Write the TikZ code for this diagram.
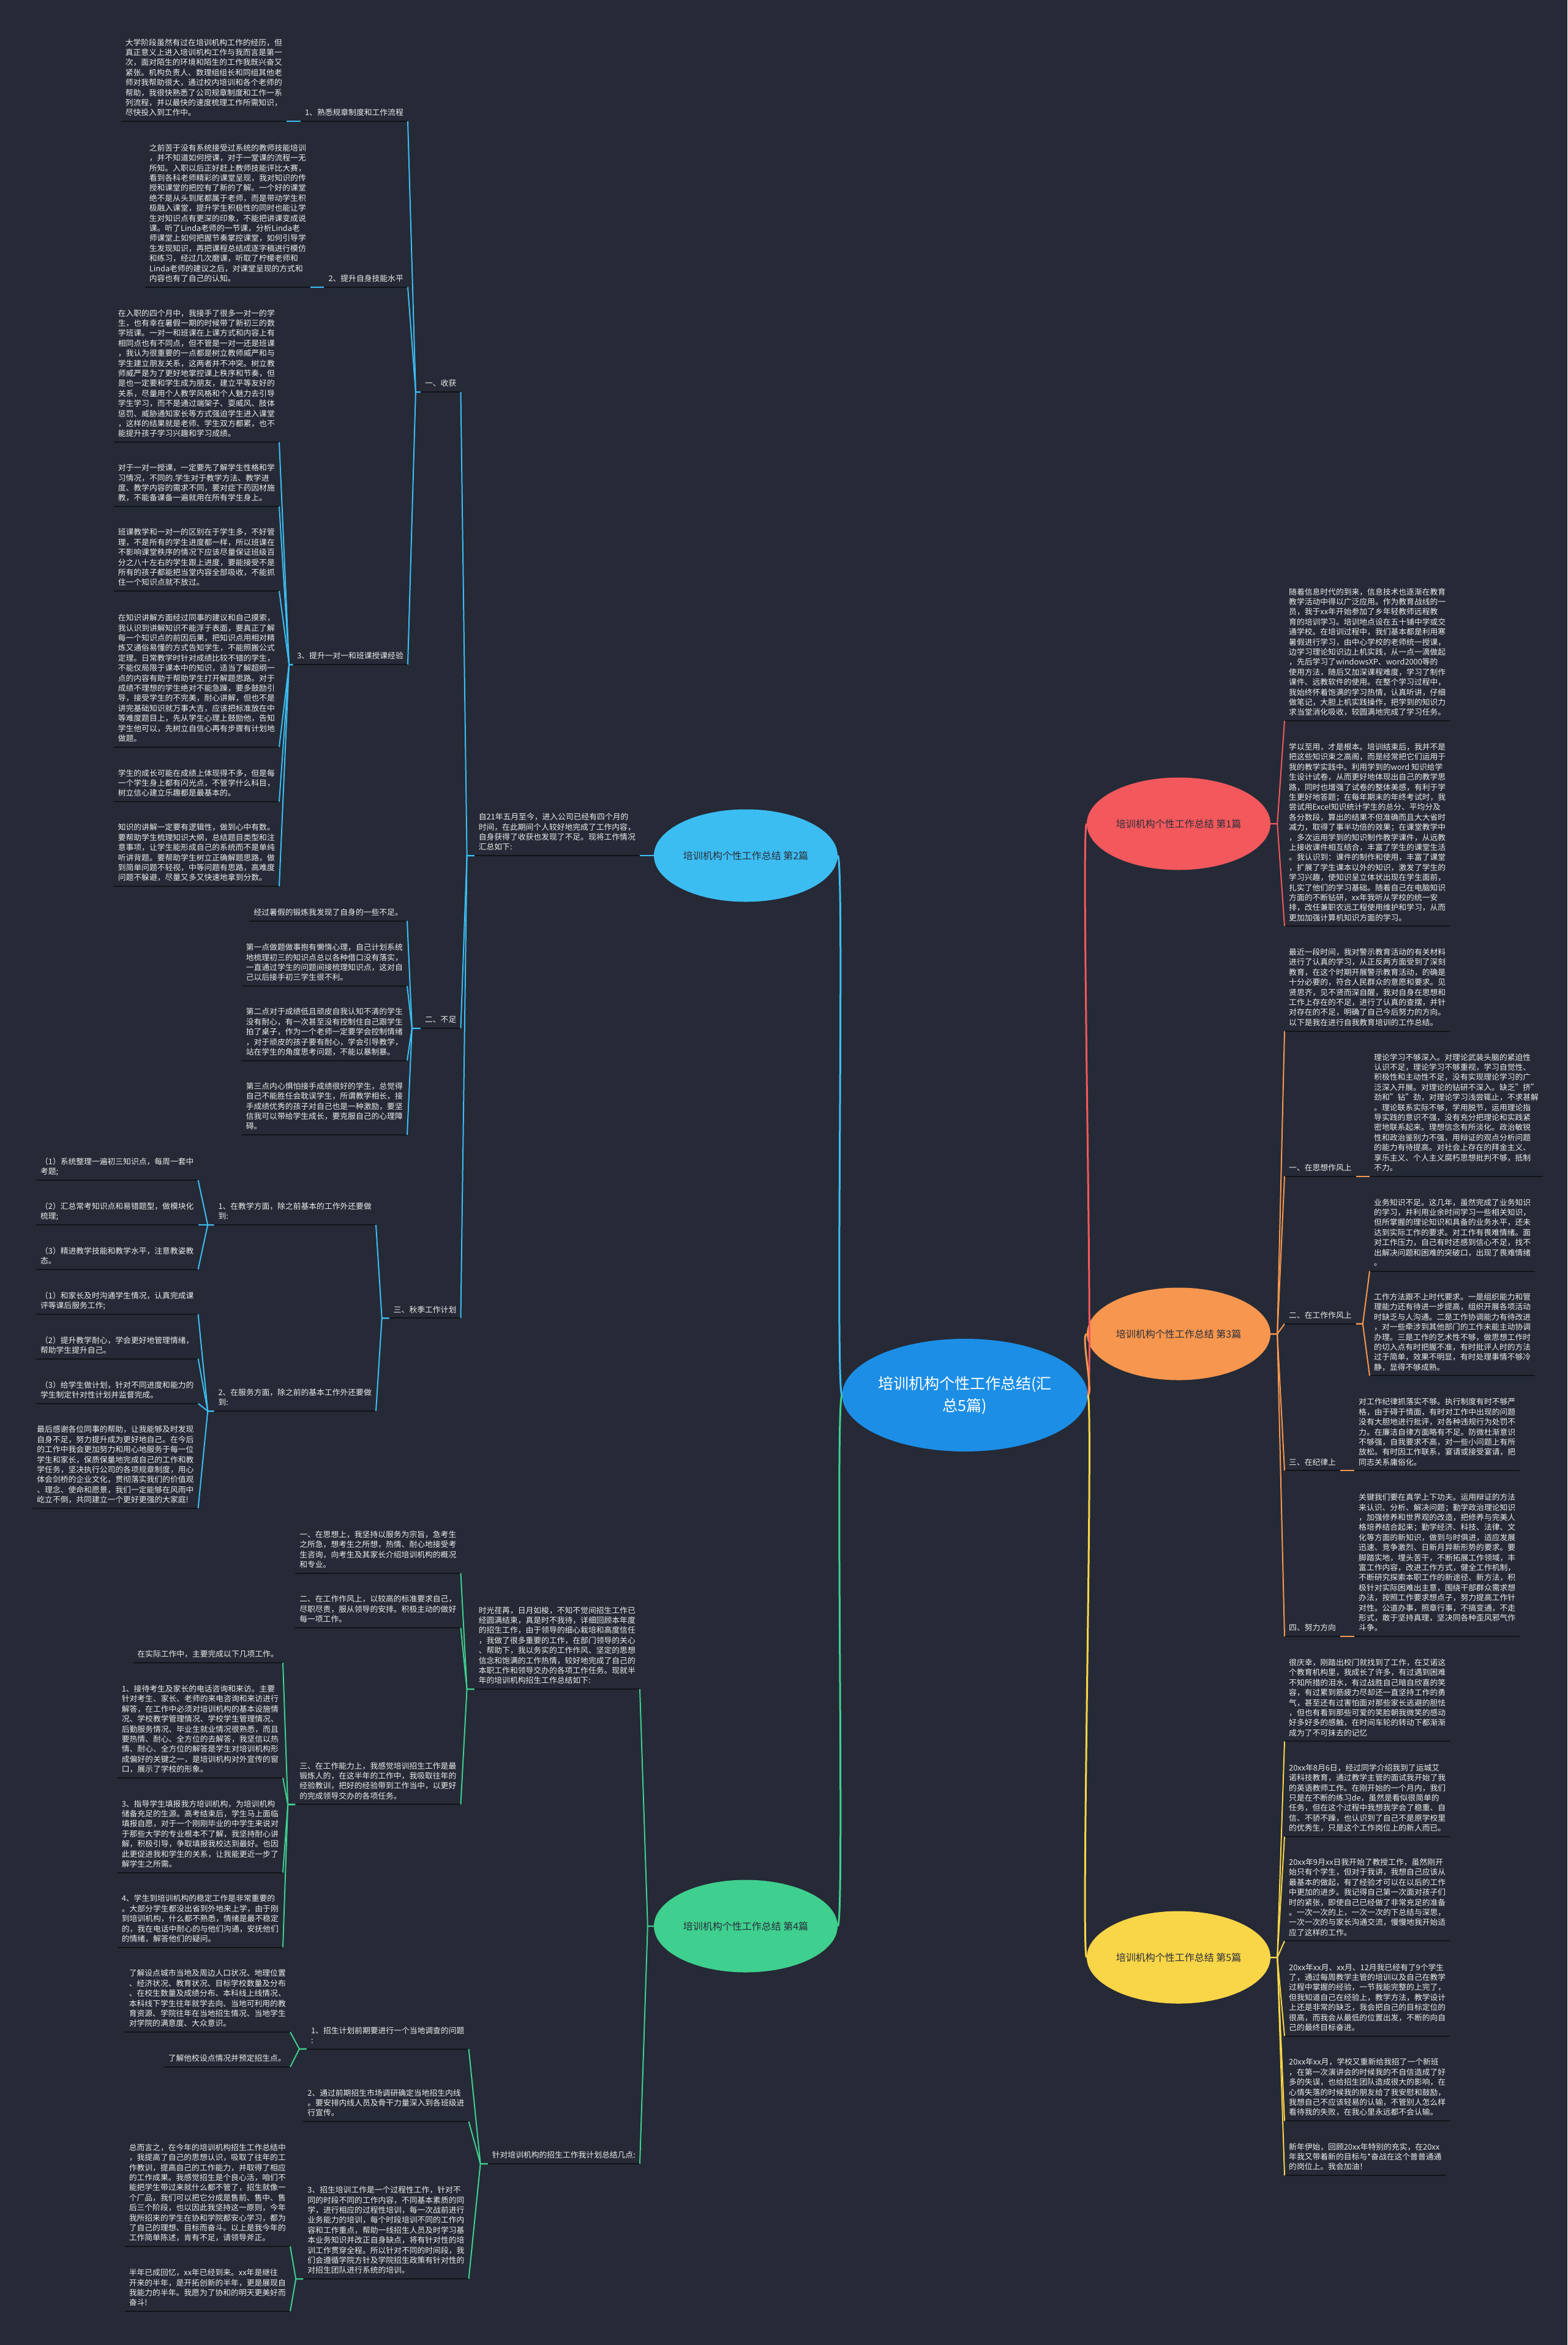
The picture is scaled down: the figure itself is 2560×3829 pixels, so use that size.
\documentclass[tikz,border=0pt]{standalone}
\usepackage{fontspec}
\setmainfont{Noto Sans CJK SC}
\usetikzlibrary{shapes.geometric}
\definecolor{bgc}{HTML}{252A36}
\definecolor{txtc}{HTML}{EDEDED}
\definecolor{ulc}{HTML}{111419}
\definecolor{cblue}{HTML}{3CBDF2}
\definecolor{cred}{HTML}{F2585C}
\definecolor{corange}{HTML}{F7964F}
\definecolor{cgreen}{HTML}{3FCF8E}
\definecolor{cyellow}{HTML}{F9D548}
\definecolor{cmain}{HTML}{1C8EE6}
\definecolor{brtxt}{HTML}{2A2F3A}
\newcommand{\fs}{\fontsize{12.8}{16.4}\selectfont}

\begin{document}
\begin{tikzpicture}[x=1pt,y=-1pt,
  txt/.style={font=\fs, text=txtc, align=left, inner xsep=7pt, inner ysep=4pt,
    execute at end node=\strut,
    append after command={(\tikzlastnode.south west) edge[draw=ulc, line width=2pt] (\tikzlastnode.south east)}},
  lt/.style={txt, anchor=south east},
  rt/.style={txt, anchor=south west},
  br/.style={ellipse, inner sep=0pt, minimum width=300pt, minimum height=151pt, font=\fontsize{16}{20}\selectfont, text=brtxt},
  ln/.style={line width=2pt},
  mln/.style={line width=3pt}]
\fill[bgc] (0,0) rectangle (2560,3829);
\useasboundingbox (0,0) rectangle (2560,3829);

\node[ellipse, fill=cmain, minimum width=367pt, minimum height=184pt, inner sep=0pt, text=white, align=center, font=\fontsize{25}{36}\selectfont] (main) at (1576,2278) {培训机构个性工作总结(汇\\总5篇)};
\node[br, fill=cred] (b1) at (1925,1345) {培训机构个性工作总结 第1篇};
\node[br, fill=cblue] (b2) at (1218,1397) {培训机构个性工作总结 第2篇};
\node[br, fill=corange] (b3) at (1925,2178) {培训机构个性工作总结 第3篇};
\node[br, fill=cgreen] (b4) at (1218,3145) {培训机构个性工作总结 第4篇};
\node[br, fill=cyellow] (b5) at (1925,3196) {培训机构个性工作总结 第5篇};

\draw[mln, cred] (main.east) .. controls +(10,0) and +(-10,0) .. (b1.west);
\draw[mln, corange] (main.east) .. controls +(10,0) and +(-10,0) .. (b3.west);
\draw[mln, cyellow] (main.east) .. controls +(10,0) and +(-10,0) .. (b5.west);
\draw[mln, cblue] (main.west) .. controls +(-12,0) and +(12,0) .. (b2.east);
\draw[mln, cgreen] (main.west) .. controls +(-12,0) and +(12,0) .. (b4.east);

% 第2篇
\node[lt] (p2) at (1045,1397) {自21年五月至今，进入公司已经有四个月的\\时间，在此期间个人较好地完成了工作内容，\\自身获得了收获也发现了不足。现将工作情况\\汇总如下:};
\node[lt] (s21) at (752.5,640) {一、收获};
\node[lt] (s22) at (752.5,1679) {二、不足};
\node[lt] (s23) at (752.5,2152.4) {三、秋季工作计划};
\node[lt] (g1) at (666,198) {1、熟悉规章制度和工作流程};
\node[lt] (g2) at (666,468.6) {2、提升自身技能水平};
\node[lt] (g3) at (666,1085) {3、提升一对一和班课授课经验};
\node[lt] (a1) at (468,198) {大学阶段虽然有过在培训机构工作的经历，但\\真正意义上进入培训机构工作与我而言是第一\\次，面对陌生的环境和陌生的工作我既兴奋又\\紧张。机构负责人、数理组组长和同组其他老\\师对我帮助很大，通过校内培训和各个老师的\\帮助，我很快熟悉了公司规章制度和工作一系\\列流程，并以最快的速度梳理工作所需知识，\\尽快投入到工作中。};
\node[lt] (a2) at (507,468.6) {之前苦于没有系统接受过系统的教师技能培训\\，并不知道如何授课，对于一堂课的流程一无\\所知。入职以后正好赶上教师技能评比大赛，\\看到各科老师精彩的课堂呈现，我对知识的传\\授和课堂的把控有了新的了解。一个好的课堂\\绝不是从头到尾都属于老师，而是带动学生积\\极融入课堂，提升学生积极性的同时也能让学\\生对知识点有更深的印象，不能把讲课变成说\\课。听了Linda老师的一节课，分析Linda老\\师课堂上如何把握节奏掌控课堂，如何引导学\\生发现知识，再把课程总结成逐字稿进行模仿\\和练习，经过几次磨课，听取了柠檬老师和\\Linda老师的建议之后，对课堂呈现的方式和\\内容也有了自己的认知。};
\node[lt] (a3) at (456,722) {在入职的四个月中，我接手了很多一对一的学\\生，也有幸在暑假一期的时候带了新初三的数\\学班课。一对一和班课在上课方式和内容上有\\相同点也有不同点，但不管是一对一还是班课\\，我认为很重要的一点都是树立教师威严和与\\学生建立朋友关系，这两者并不冲突。树立教\\师威严是为了更好地掌控课上秩序和节奏，但\\是也一定要和学生成为朋友，建立平等友好的\\关系，尽量用个人教学风格和个人魅力去引导\\学生学习，而不是通过端架子、耍威风、肢体\\惩罚、威胁通知家长等方式强迫学生进入课堂\\，这样的结果就是老师、学生双方都累，也不\\能提升孩子学习兴趣和学习成绩。};
\node[lt] (a4) at (456,827) {对于一对一授课，一定要先了解学生性格和学\\习情况，不同的.学生对于教学方法、教学进\\度、教学内容的需求不同，要对症下药因材施\\教，不能备课备一遍就用在所有学生身上。};
\node[lt] (a5) at (456,965) {班课教学和一对一的区别在于学生多，不好管\\理，不是所有的学生进度都一样，所以班课在\\不影响课堂秩序的情况下应该尽量保证班级百\\分之八十左右的学生跟上进度，要能接受不是\\所有的孩子都能把当堂内容全部吸收，不能抓\\住一个知识点就不放过。};
\node[lt] (a6) at (456,1219.7) {在知识讲解方面经过同事的建议和自己摸索，\\我认识到讲解知识不能浮于表面，要真正了解\\每一个知识点的前因后果，把知识点用相对精\\炼又通俗易懂的方式告知学生，不能照搬公式\\定理。日常教学时针对成绩比较不错的学生，\\不能仅局限于课本中的知识，适当了解超纲一\\点的内容有助于帮助学生打开解题思路。对于\\成绩不理想的学生绝对不能急躁，要多鼓励引\\导，接受学生的不完美，耐心讲解，但也不是\\讲完基础知识就万事大吉，应该把标准放在中\\等难度题目上，先从学生心理上鼓励他，告知\\学生他可以，先树立自信心再有步骤有计划地\\做题。};
\node[lt] (a7) at (456,1309) {学生的成长可能在成绩上体现得不多，但是每\\一个学生身上都有闪光点，不管学什么科目，\\树立信心建立乐趣都是最基本的。};
\node[lt] (a8) at (456,1447) {知识的讲解一定要有逻辑性，做到心中有数。\\要帮助学生梳理知识大纲，总结题目类型和注\\意事项，让学生能形成自己的系统而不是单纯\\听讲背题。要帮助学生树立正确解题思路，做\\到简单问题不轻视，中等问题有思路，高难度\\问题不躲避，尽量又多又快速地拿到分数。};
\node[lt] (c1) at (665,1503.5) {经过暑假的锻炼我发现了自身的一些不足。};
\node[lt] (c2) at (665,1610) {第一点做题做事抱有懒惰心理，自己计划系统\\地梳理初三的知识点总以各种借口没有落实，\\一直通过学生的问题间接梳理知识点，这对自\\己以后接手初三学生很不利。};
\node[lt] (c3) at (665,1731.6) {第二点对于成绩低且顽皮自我认知不清的学生\\没有耐心，有一次甚至没有控制住自己跟学生\\拍了桌子，作为一个老师一定要学会控制情绪\\，对于顽皮的孩子要有耐心，学会引导教学，\\站在学生的角度思考问题，不能以暴制暴。};
\node[lt] (c4) at (665,1853) {第三点内心惧怕接手成绩很好的学生，总觉得\\自己不能胜任会耽误学生，所谓教学相长，接\\手成绩优秀的孩子对自己也是一种激励，要坚\\信我可以带给学生成长，要克服自己的心理障\\碍。};
\node[lt] (d0) at (614,2000) {1、在教学方面，除之前基本的工作外还要做\\到:};
\node[lt] (d1) at (323.6,1927) {（1）系统整理一遍初三知识点，每周一套中\\考题;};
\node[lt] (d2) at (323.6,2000) {（2）汇总常考知识点和易错题型，做模块化\\梳理;};
\node[lt] (d3) at (323.6,2072.6) {（3）精进教学技能和教学水平，注意教姿教\\态。};
\node[lt] (e0) at (614,2304) {2、在服务方面，除之前的基本工作外还要做\\到:};
\node[lt] (e1) at (323.6,2145.7) {（1）和家长及时沟通学生情况，认真完成课\\评等课后服务工作;};
\node[lt] (e2) at (323.6,2218.5) {（2）提升教学耐心，学会更好地管理情绪，\\帮助学生提升自己。};
\node[lt] (e3) at (323.6,2291.7) {（3）给学生做计划，针对不同进度和能力的\\学生制定针对性计划并监督完成。};
\node[lt] (e4) at (323.6,2462.7) {最后感谢各位同事的帮助，让我能够及时发现\\自身不足，努力提升成为更好地自己。在今后\\的工作中我会更加努力和用心地服务于每一位\\学生和家长，保质保量地完成自己的工作和教\\学任务，坚决执行公司的各项规章制度，用心\\体会剑桥的企业文化，贯彻落实我们的价值观\\、理念、使命和愿景，我们一定能够在风雨中\\屹立不倒，共同建立一个更好更强的大家庭!};

\draw[ln, cblue] (b2.west) -- (p2.south east);
\draw[ln, cblue] (p2.south west) -- ++(-12,0) -- (s21.south east);
\draw[ln, cblue] (p2.south west) -- ++(-12,0) -- (s22.south east);
\draw[ln, cblue] (p2.south west) -- ++(-12,0) -- (s23.south east);
\draw[ln, cblue] (s21.south west) -- ++(-8,0) -- (g1.south east);
\draw[ln, cblue] (s21.south west) -- ++(-8,0) -- (g2.south east);
\draw[ln, cblue] (s21.south west) -- ++(-8,0) -- (g3.south east);
\draw[ln, cblue] (g1.south west) -- (a1.south east);
\draw[ln, cblue] (g2.south west) -- (a2.south east);
\draw[ln, cblue] (g3.south west) -- ++(-6,0) -- (a3.south east);
\draw[ln, cblue] (g3.south west) -- ++(-6,0) -- (a4.south east);
\draw[ln, cblue] (g3.south west) -- ++(-6,0) -- (a5.south east);
\draw[ln, cblue] (g3.south west) -- ++(-6,0) -- (a6.south east);
\draw[ln, cblue] (g3.south west) -- ++(-6,0) -- (a7.south east);
\draw[ln, cblue] (g3.south west) -- ++(-6,0) -- (a8.south east);
\draw[ln, cblue] (s22.south west) -- ++(-14,0) -- (c1.south east);
\draw[ln, cblue] (s22.south west) -- ++(-14,0) -- (c2.south east);
\draw[ln, cblue] (s22.south west) -- ++(-14,0) -- (c3.south east);
\draw[ln, cblue] (s22.south west) -- ++(-14,0) -- (c4.south east);
\draw[ln, cblue] (s23.south west) -- ++(-12,0) -- (d0.south east);
\draw[ln, cblue] (s23.south west) -- ++(-12,0) -- (e0.south east);
\draw[ln, cblue] (d0.south west) -- ++(-10,0) -- (d1.south east);
\draw[ln, cblue] (d0.south west) -- ++(-10,0) -- (d2.south east);
\draw[ln, cblue] (d0.south west) -- ++(-10,0) -- (d3.south east);
\draw[ln, cblue] (e0.south west) -- ++(-10,0) -- (e1.south east);
\draw[ln, cblue] (e0.south west) -- ++(-10,0) -- (e2.south east);
\draw[ln, cblue] (e0.south west) -- ++(-10,0) -- (e3.south east);
\draw[ln, cblue] (e0.south west) -- ++(-10,0) -- (e4.south east);

% 第4篇
\node[lt] (p4) at (1045,2758) {时光荏苒，日月如梭，不知不觉间招生工作已\\经圆满结束，真是时不我待，详细回顾本年度\\的招生工作，由于领导的细心栽培和高度信任\\，我做了很多重要的工作，在部门领导的关心\\、帮助下，我以务实的工作作风、坚定的思想\\信念和饱满的工作热情，较好地完成了自己的\\本职工作和领导交办的各项工作任务。现就半\\年的培训机构招生工作总结如下:};
\node[lt] (f1) at (752.5,2568.5) {一、在思想上，我坚持以服务为宗旨，急考生\\之所急，想考生之所想，热情、耐心地接受考\\生咨询，向考生及其家长介绍培训机构的概况\\和专业。};
\node[lt] (f2) at (752.5,2657.8) {二、在工作作风上，以较高的标准要求自己，\\尽职尽责，服从领导的安排。积极主动的做好\\每一项工作。};
\node[lt] (f3) at (752.5,2946.4) {三、在工作能力上，我感觉培训招生工作是最\\锻炼人的，在这半年的工作中，我吸取往年的\\经验教训，把好的经验带到工作当中，以更好\\的完成领导交办的各项任务。};
\node[lt] (h0) at (462,2715) {在实际工作中，主要完成以下几项工作。};
\node[lt] (h1) at (462,2902.7) {1、接待考生及家长的电话咨询和来访。主要\\针对考生、家长、老师的来电咨询和来访进行\\解答，在工作中必须对培训机构的基本设施情\\况、学校教学管理情况、学校学生管理情况、\\后勤服务情况、毕业生就业情况很熟悉，而且\\要热情、耐心、全方位的去解答，我坚信以热\\情、耐心、全方位的解答是学生对培训机构形\\成偏好的关键之一，是培训机构对外宣传的窗\\口，展示了学校的形象。};
\node[lt] (h3) at (462,3057.6) {3、指导学生填报我方培训机构，为培训机构\\储备充足的生源。高考结束后，学生马上面临\\填报自愿，对于一个刚刚毕业的中学生来说对\\于那些大学的专业根本不了解，我坚持耐心讲\\解，积极引导，争取填报我校达到最好。也因\\此更促进我和学生的关系，让我能更近一步了\\解学生之所需。};
\node[lt] (h4) at (462,3179.5) {4、学生到培训机构的稳定工作是非常重要的\\。大部分学生都没出省到外地来上学，由于刚\\到培训机构，什么都不熟悉，情绪是最不稳定\\的，我在电话中耐心的与他们沟通，安抚他们\\的情绪，解答他们的疑问。};
\node[lt] (k0) at (1045,3533) {针对培训机构的招生工作我计划总结几点:};
\node[lt] (k1) at (765.6,3345.5) {1、招生计划前期要进行一个当地调查的问题\\:};
\node[lt] (k2) at (765.6,3464) {2、通过前期招生市场调研确定当地招生内线\\。要安排内线人员及骨干力量深入到各班级进\\行宣传。};
\node[lt] (k3) at (765.6,3721) {3、招生培训工作是一个过程性工作，针对不\\同的时段不同的工作内容，不同基本素质的同\\学，进行相应的过程性培训，每一次战前进行\\业务能力的培训，每个时段培训不同的工作内\\容和工作重点，帮助一线招生人员及时学习基\\本业务知识并改正自身缺点，将有针对性的培\\训工作贯穿全程。所以针对不同的时间段，我\\们会遵循学院方针及学院招生政策有针对性的\\对招生团队进行系统的培训。};
\node[lt] (m1) at (474,3318) {了解设点城市当地及周边人口状况、地理位置\\、经济状况、教育状况、目标学校数量及分布\\、在校生数量及成绩分布、本科线上线情况、\\本科线下学生往年就学去向、当地可利用的教\\育资源、学院往年在当地招生情况、当地学生\\对学院的满意度、大众意识。};
\node[lt] (m2) at (474,3375) {了解他校设点情况并预定招生点。};
\node[lt] (n1) at (474,3668) {总而言之，在今年的培训机构招生工作总结中\\，我提高了自己的思想认识，吸取了往年的工\\作教训，提高自己的工作能力，并取得了相应\\的工作成果。我感觉招生是个良心活，咱们不\\能把学生带过来就什么都不管了，招生就像一\\个厂品，我们可以把它分成是售前、售中、售\\后三个阶段，也以因此我坚持这一原则，今年\\我所招来的学生在协和学院都安心学习，都为\\了自己的理想、目标而奋斗。以上是我今年的\\工作简单陈述，肯有不足，请领导斧正。};
\node[lt] (n2) at (474,3774) {半年已成回忆，xx年已经到来。xx年是继往\\开来的半年，是开拓创新的半年，更是展现自\\我能力的半年。我愿为了协和的明天更美好而\\奋斗!};

\draw[ln, cgreen] (b4.west) -- ++(-10,0) -- (p4.south east);
\draw[ln, cgreen] (b4.west) -- ++(-10,0) -- (k0.south east);
\draw[ln, cgreen] (p4.south west) -- ++(-12,0) -- (f1.south east);
\draw[ln, cgreen] (p4.south west) -- ++(-12,0) -- (f2.south east);
\draw[ln, cgreen] (p4.south west) -- ++(-12,0) -- (f3.south east);
\draw[ln, cgreen] (f3.south west) -- ++(-12,0) -- (h0.south east);
\draw[ln, cgreen] (f3.south west) -- ++(-12,0) -- (h1.south east);
\draw[ln, cgreen] (f3.south west) -- ++(-12,0) -- (h3.south east);
\draw[ln, cgreen] (f3.south west) -- ++(-12,0) -- (h4.south east);
\draw[ln, cgreen] (k0.south west) -- ++(-12,0) -- (k1.south east);
\draw[ln, cgreen] (k0.south west) -- ++(-12,0) -- (k2.south east);
\draw[ln, cgreen] (k0.south west) -- ++(-12,0) -- (k3.south east);
\draw[ln, cgreen] (k1.south west) -- ++(-12,0) -- (m1.south east);
\draw[ln, cgreen] (k1.south west) -- ++(-12,0) -- (m2.south east);
\draw[ln, cgreen] (k3.south west) -- ++(-12,0) -- (n1.south east);
\draw[ln, cgreen] (k3.south west) -- ++(-12,0) -- (n2.south east);

% 第1篇
\node[rt] (r1) at (2098,1177) {随着信息时代的到来，信息技术也逐渐在教育\\教学活动中得以广泛应用。作为教育战线的一\\员，我于xx年开始参加了乡年轻教师远程教\\育的培训学习。培训地点设在五十铺中学或交\\通学校。在培训过程中，我们基本都是利用寒\\暑假进行学习，由中心学校的老师统一授课，\\边学习理论知识边上机实践，从一点一滴做起\\，先后学习了windowsXP、word2000等的\\使用方法，随后又加深课程难度，学习了制作\\课件、远教软件的使用。在整个学习过程中，\\我始终怀着饱满的学习热情，认真听讲，仔细\\做笔记，大胆上机实践操作，把学到的知识力\\求当堂消化吸收，较圆满地完成了学习任务。};
\node[rt] (r2) at (2098,1512.4) {学以至用，才是根本。培训结束后，我并不是\\把这些知识束之高阁，而是经常把它们运用于\\我的教学实践中。利用学到的word 知识给学\\生设计试卷，从而更好地体现出自己的教学思\\路，同时也增强了试卷的整体美感，有利于学\\生更好地答题；在每年期末的年终考试时，我\\尝试用Excel知识统计学生的总分、平均分及\\各分数段，算出的结果不但准确而且大大省时\\减力，取得了事半功倍的效果；在课堂教学中\\，多次运用学到的知识制作教学课件，从远教\\上接收课件相互结合，丰富了学生的课堂生活\\。我认识到：课件的制作和使用，丰富了课堂\\，扩展了学生课本以外的知识，激发了学生的\\学习兴趣，使知识呈立体状出现在学生面前，\\扎实了他们的学习基础。随着自己在电脑知识\\方面的不断钻研，xx年我听从学校的统一安\\排，改任兼职农远工程使用维护和学习，从而\\更加加强计算机知识方面的学习。};
\draw[ln, cred] (b1.east) -- ++(11,0) -- (r1.south west);
\draw[ln, cred] (b1.east) -- ++(11,0) -- (r2.south west);

% 第3篇
\node[rt] (q0) at (2098,1683.5) {最近一段时间，我对警示教育活动的有关材料\\进行了认真的学习，从正反两方面受到了深刻\\教育，在这个时期开展警示教育活动，的确是\\十分必要的，符合人民群众的意愿和要求。见\\贤思齐，见不贤而深自醒，我对自身在思想和\\工作上存在的不足，进行了认真的查摆，并针\\对存在的不足，明确了自己今后努力的方向。\\以下是我在进行自我教育培训的工作总结。};
\node[rt] (q1) at (2098,1920.5) {一、在思想作风上};
\node[rt] (q2) at (2098,2161.6) {二、在工作作风上};
\node[rt] (q3) at (2098,2401.4) {三、在纪律上};
\node[rt] (q4) at (2098,2672) {四、努力方向};
\node[rt] (w1) at (2237,1920.5) {理论学习不够深入。对理论武装头脑的紧迫性\\认识不足，理论学习不够重视，学习自觉性、\\积极性和主动性不足，没有实现理论学习的广\\泛深入开展。对理论的钻研不深入。缺乏"挤"\\劲和"钻"劲，对理论学习浅尝辄止，不求甚解\\。理论联系实际不够，学用脱节，运用理论指\\导实践的意识不强，没有充分把理论和实践紧\\密地联系起来。理想信念有所淡化。政治敏锐\\性和政治鉴别力不强，用辩证的观点分析问题\\的能力有待提高。对社会上存在的拜金主义、\\享乐主义、个人主义腐朽思想批判不够，抵制\\不力。};
\node[rt] (w2) at (2237,2075.5) {业务知识不足。这几年，虽然完成了业务知识\\的学习，并利用业余时间学习一些相关知识，\\但所掌握的理论知识和具备的业务水平，还未\\达到实际工作的要求。对工作有畏难情绪。面\\对工作压力，自己有时还感到信心不足，找不\\出解决问题和困难的突破口，出现了畏难情绪\\。};
\node[rt] (w3) at (2237,2246.4) {工作方法跟不上时代要求。一是组织能力和管\\理能力还有待进一步提高，组织开展各项活动\\时缺乏与人沟通。二是工作协调能力有待改进\\，对一些牵涉到其他部门的工作未能主动协调\\办理。三是工作的艺术性不够，做思想工作时\\的切入点有时把握不准，有时批评人时的方法\\过于简单，效果不明显，有时处理事情不够冷\\静，显得不够成熟。};
\node[rt] (w4) at (2212,2401.4) {对工作纪律抓落实不够。执行制度有时不够严\\格，由于碍于情面，有时对工作中出现的问题\\没有大胆地进行批评，对各种违规行为处罚不\\力。在廉洁自律方面略有不足。防微杜渐意识\\不够强，自我要求不高，对一些小问题上有所\\放松。有时因工作联系，宴请或接受宴请，把\\同志关系庸俗化。};
\node[rt] (w5) at (2212,2672) {关键我们要在真学上下功夫。运用辩证的方法\\来认识、分析、解决问题；勤学政治理论知识\\，加强修养和世界观的改造，把修养与完美人\\格培养结合起来；勤学经济、科技、法律、文\\化等方面的新知识，做到与时俱进，适应发展\\迅速、竞争激烈、日新月异新形势的要求。要\\脚踏实地，埋头苦干，不断拓展工作领域，丰\\富工作内容，改进工作方式，健全工作机制，\\不断研究探索本职工作的新途径、新方法，积\\极针对实际困难出主意，围绕干部群众需求想\\办法，按照工作要求想点子，努力提高工作针\\对性。公道办事，照章行事，不搞变通，不走\\形式，敢于坚持真理，坚决同各种歪风邪气作\\斗争。};
\draw[ln, corange] (b3.east) -- ++(11,0) -- (q0.south west);
\draw[ln, corange] (b3.east) -- ++(11,0) -- (q1.south west);
\draw[ln, corange] (b3.east) -- ++(11,0) -- (q2.south west);
\draw[ln, corange] (b3.east) -- ++(11,0) -- (q3.south west);
\draw[ln, corange] (b3.east) -- ++(11,0) -- (q4.south west);
\draw[ln, corange] (q1.south east) -- (w1.south west);
\draw[ln, corange] (q2.south east) -- ++(11,0) -- (w2.south west);
\draw[ln, corange] (q2.south east) -- ++(11,0) -- (w3.south west);
\draw[ln, corange] (q3.south east) -- (w4.south west);
\draw[ln, corange] (q4.south east) -- (w5.south west);

% 第5篇
\node[rt] (t1) at (2098,2843.4) {很庆幸，刚踏出校门就找到了工作，在艾诺这\\个教育机构里，我成长了许多，有过遇到困难\\不知所措的泪水，有过战胜自己暗自欣喜的笑\\容，有过累到筋疲力尽却还一直坚持工作的勇\\气，甚至还有过害怕面对那些家长逃避的胆怯\\，但也有看到那些可爱的笑脸朝我微笑的感动\\好多好多的感触，在时间车轮的转动下都渐渐\\成为了不可抹去的记忆};
\node[rt] (t2) at (2098,2998.8) {20xx年8月6日，经过同学介绍我到了运城艾\\诺科技教育，通过教学主管的面试我开始了我\\的英语教师工作。在刚开始的一个月内，我们\\只是在不断的练习de，虽然是看似很简单的\\任务，但在这个过程中我想我学会了稳重、自\\信、不骄不躁，也认识到了自己不是原学校里\\的优秀生，只是这个工作岗位上的新人而已。};
\node[rt] (t3) at (2098,3169.4) {20xx年9月xx日我开始了教授工作，虽然刚开\\始只有个学生，但对于我讲，我想自己应该从\\最基本的做起，有了经验才可以在以后的工作\\中更加的进步。我记得自己第一次面对孩子们\\时的紧张，即使自己已经做了非常充足的准备\\。一次一次的上，一次一次的下总结与深思，\\一次一次的与家长沟通交流，慢慢地我开始适\\应了这样的工作。};
\node[rt] (t4) at (2098,3324.5) {20xx年xx月、xx月、12月我已经有了9个学生\\了，通过每周教学主管的培训以及自己在教学\\过程中掌握的经验，一节我能完整的上完了，\\但我知道自己在经验上，教学方法，教学设计\\上还是非常的缺乏，我会把自己的目标定位的\\很高，而我会从最低的位置出发，不断的向自\\己的最终目标奋进。};
\node[rt] (t5) at (2098,3463) {20xx年xx月，学校又重新给我招了一个新班\\，在第一次演讲会的时候我的不自信造成了好\\多的失误，也给招生团队造成很大的影响，在\\心情失落的时候我的朋友给了我安慰和鼓励，\\我想自己不应该轻易的认输，不管别人怎么样\\看待我的失败，在我心里永远都不会认输。};
\node[rt] (t6) at (2098,3552) {新年伊始，回顾20xx年特别的充实，在20xx\\年我又带着新的目标与*奋战在这个普普通通\\的岗位上。我会加油！};
\draw[ln, cyellow] (b5.east) -- ++(11,0) -- (t1.south west);
\draw[ln, cyellow] (b5.east) -- ++(11,0) -- (t2.south west);
\draw[ln, cyellow] (b5.east) -- ++(11,0) -- (t3.south west);
\draw[ln, cyellow] (b5.east) -- ++(11,0) -- (t4.south west);
\draw[ln, cyellow] (b5.east) -- ++(11,0) -- (t5.south west);
\draw[ln, cyellow] (b5.east) -- ++(11,0) -- (t6.south west);
\end{tikzpicture}
\end{document}
